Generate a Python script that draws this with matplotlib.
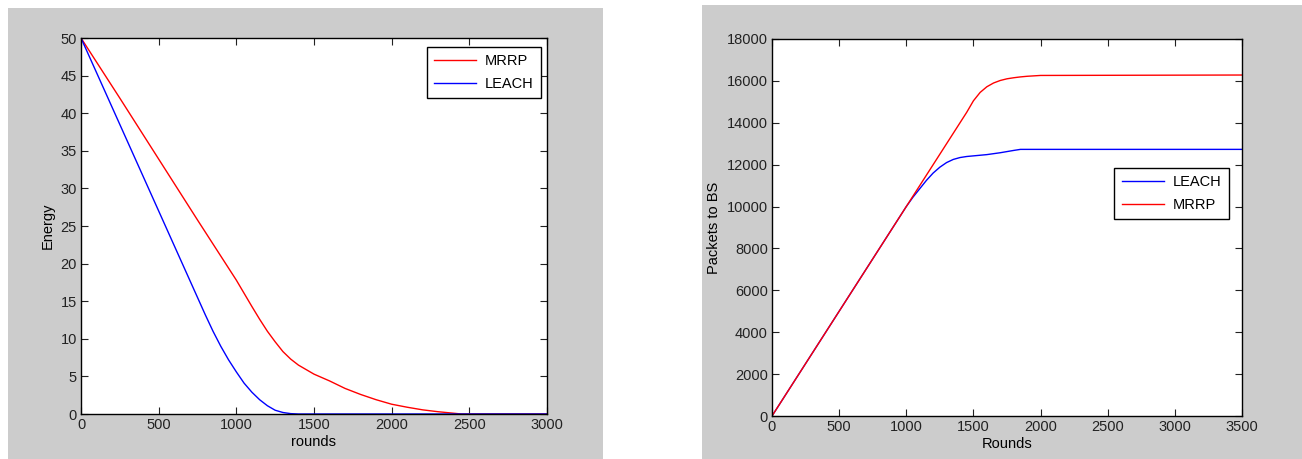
import numpy as np
import matplotlib
matplotlib.use("Agg")
import matplotlib.pyplot as plt
from matplotlib.patches import Rectangle

plt.rcParams["font.family"] = ["Liberation Sans Narrow", "Liberation Sans", "DejaVu Sans"]
plt.rcParams["font.size"] = 10.5

# energy vs rounds (left)
rounds_mrrp = [0, 250, 500, 750, 1000, 1100, 1150, 1200, 1250, 1300, 1350, 1400, 1450, 1500,
               1600, 1700, 1800, 1900, 2000, 2100, 2200, 2300, 2400, 2450, 3000]
energy_mrrp = [50, 42, 33.9, 25.8, 17.8, 14.3, 12.6, 11.0, 9.6, 8.3, 7.3, 6.5, 5.9, 5.3,
               4.4, 3.4, 2.6, 1.9, 1.3, 0.9, 0.55, 0.3, 0.1, 0, 0]
rounds_leach = [0, 200, 400, 600, 800, 850, 900, 950, 1000, 1050, 1100, 1150, 1200, 1250,
                1300, 1350, 1400, 3000]
energy_leach = [50, 40.8, 31.6, 22.4, 13.2, 11.0, 9.0, 7.2, 5.6, 4.1, 2.9, 1.9, 1.1, 0.5,
                0.2, 0.05, 0, 0]

# packets to BS vs rounds (right)
pk_rounds_leach = [0, 500, 1000, 1050, 1100, 1150, 1200, 1250, 1300, 1350, 1400, 1450, 1500,
                   1600, 1700, 1800, 1850, 3500]
packets_leach = [0, 5000, 10000, 10450, 10850, 11250, 11600, 11880, 12100, 12250, 12340,
                 12390, 12420, 12480, 12570, 12680, 12730, 12730]
pk_rounds_mrrp = [0, 500, 1000, 1400, 1450, 1500, 1550, 1600, 1650, 1700, 1750, 1800,
                  1850, 1900, 2000, 3500]
packets_mrrp = [0, 5000, 10000, 14000, 14500, 15050, 15450, 15720, 15900, 16020, 16100,
                16150, 16190, 16220, 16260, 16280]

W, H = 1302, 459
fig = plt.figure(figsize=(W / 100, H / 100), dpi=100)
fig.patch.set_facecolor("white")

gray = "#cccccc"
fig.patches.append(Rectangle((8 / W, 0), 595 / W, 451 / H, transform=fig.transFigure,
                             facecolor=gray, edgecolor="none", zorder=-10))
fig.patches.append(Rectangle((702 / W, 0), 600 / W, 454 / H, transform=fig.transFigure,
                             facecolor=gray, edgecolor="none", zorder=-10))

ax1 = fig.add_axes([81 / W, (H - 414) / H, 466 / W, 376 / H])
ax2 = fig.add_axes([772 / W, (H - 416) / H, 470 / W, 377 / H])

ax1.plot(rounds_mrrp, energy_mrrp, color="red", lw=1, label="MRRP")
ax1.plot(rounds_leach, energy_leach, color="blue", lw=1, label="LEACH")
ax1.set_xlim(0, 3000)
ax1.set_ylim(0, 50)
ax1.set_xticks(np.arange(0, 3001, 500))
ax1.set_yticks(np.arange(0, 51, 5))
ax1.set_xlabel("rounds", labelpad=2)
ax1.set_ylabel("Energy", labelpad=4)

ax2.plot(pk_rounds_leach, packets_leach, color="blue", lw=1, label="LEACH")
ax2.plot(pk_rounds_mrrp, packets_mrrp, color="red", lw=1, label="MRRP")
ax2.set_xlim(0, 3500)
ax2.set_ylim(0, 18000)
ax2.set_xticks(np.arange(0, 3501, 500))
ax2.set_yticks(np.arange(0, 18001, 2000))
ax2.set_xlabel("Rounds", labelpad=2)
ax2.set_ylabel("Packets to BS", labelpad=4)

for ax in (ax1, ax2):
    ax.set_zorder(2)
    ax.set_facecolor("white")
    ax.tick_params(direction="in", top=True, right=True, length=5, width=0.8,
                   colors="#222222", labelcolor="#222222", pad=3)
    for s in ax.spines.values():
        s.set_linewidth(1)
        s.set_color("black")

leg_kw = dict(fancybox=False, framealpha=1, edgecolor="black", handlelength=2.9,
              borderpad=0.5, labelspacing=0.6, handletextpad=0.6, borderaxespad=0)
l1 = ax1.legend(loc="upper right", bbox_to_anchor=(0.987, 0.977), **leg_kw)
l2 = ax2.legend(loc="upper right", bbox_to_anchor=(0.972, 0.658), **leg_kw)
for lg in (l1, l2):
    lg.get_frame().set_linewidth(1)

fig.savefig("out.png", dpi=100)
